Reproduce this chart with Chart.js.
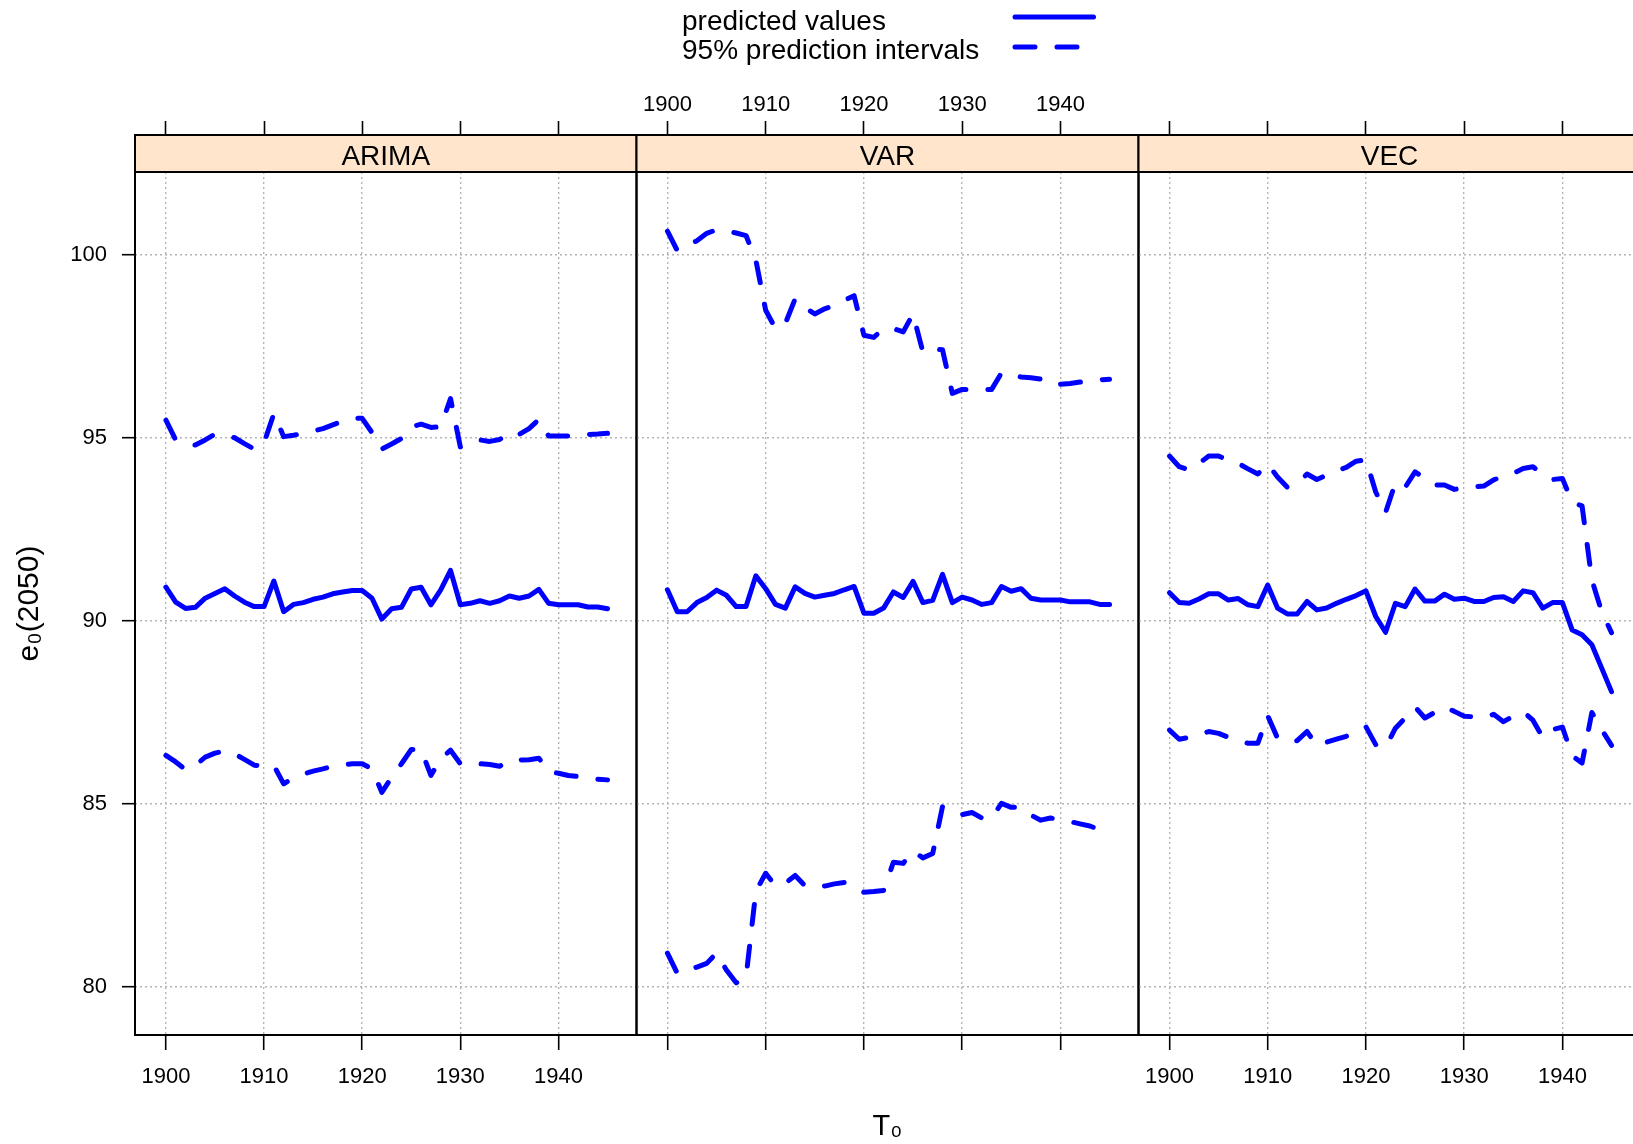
<!DOCTYPE html>
<html>
<head>
<meta charset="utf-8">
<script src="https://cdn.jsdelivr.net/npm/chart.js@4.4.1/dist/chart.umd.min.js"></script>
<style>
html, body { margin: 0; padding: 0; background: #ffffff; overflow: hidden; width: 1633px; height: 1144px; }
canvas { position: absolute; left: 0; top: 0; }
</style>
</head>
<body>
<canvas id="c0" width="1660" height="1144"></canvas>
<canvas id="c1" width="1660" height="1144"></canvas>
<canvas id="c2" width="1660" height="1144"></canvas>
<script>
// ---------------- data ----------------
const panelNames = ['ARIMA', 'VAR', 'VEC'];
const years = [1900,1901,1902,1903,1904,1905,1906,1907,1908,1909,
               1910,1911,1912,1913,1914,1915,1916,1917,1918,1919,
               1920,1921,1922,1923,1924,1925,1926,1927,1928,1929,
               1930,1931,1932,1933,1934,1935,1936,1937,1938,1939,
               1940,1941,1942,1943,1944,1945];
const xTicks = [1900, 1910, 1920, 1930, 1940];
const yTicks = [80, 85, 90, 95, 100];
const legendLabels = ['predicted values', '95% prediction intervals'];

const arimaPred = [90.92,90.51,90.34,90.37,90.62,90.75,90.88,90.68,90.51,90.39,
                   90.39,91.09,90.25,90.45,90.50,90.59,90.65,90.74,90.79,90.83,
                   90.83,90.62,90.05,90.33,90.37,90.87,90.92,90.44,90.85,91.38,
                   90.44,90.48,90.55,90.48,90.55,90.68,90.62,90.68,90.86,90.48,
                   90.44,90.44,90.44,90.38,90.38,90.33];
const arimaUpper = [95.48,94.94,94.85,94.80,94.94,95.10,95.06,95.00,94.84,94.69,
                    94.86,95.66,95.03,95.07,95.12,95.18,95.25,95.35,95.45,95.53,
                    95.53,95.14,94.69,94.83,94.98,95.30,95.37,95.28,95.30,96.07,
                    94.75,94.85,94.94,94.90,94.95,95.15,95.09,95.25,95.50,95.05,
                    95.05,95.05,95.05,95.09,95.10,95.12];
const arimaLower = [86.33,86.15,85.94,86.06,86.28,86.39,86.45,86.37,86.22,86.06,
                    86.04,86.05,85.55,85.72,85.82,85.90,85.96,86.03,86.07,86.10,
                    86.10,85.96,85.32,85.73,86.10,86.49,86.49,85.78,86.24,86.47,
                    86.10,86.12,86.10,86.08,86.03,86.19,86.20,86.21,86.25,85.89,
                    85.84,85.78,85.75,85.71,85.68,85.66];

const varPred = [90.85,90.25,90.25,90.50,90.64,90.84,90.70,90.39,90.39,91.23,
                 90.88,90.45,90.35,90.93,90.75,90.65,90.70,90.75,90.85,90.94,
                 90.21,90.21,90.35,90.79,90.64,91.08,90.50,90.56,91.27,90.50,
                 90.65,90.57,90.45,90.50,90.94,90.81,90.88,90.62,90.57,90.57,
                 90.57,90.52,90.52,90.52,90.45,90.45];
const varUpper = [100.64,100.11,100.25,100.38,100.58,100.68,100.64,100.59,100.52,99.85,
                  98.48,97.98,98.12,98.79,98.55,98.38,98.52,98.61,98.75,98.88,
                  97.80,97.74,97.98,97.98,97.89,98.38,97.34,97.43,97.40,96.21,
                  96.32,96.32,96.32,96.32,96.77,96.72,96.66,96.64,96.60,96.45,
                  96.46,96.48,96.52,96.56,96.58,96.60];
const varLower = [80.93,80.38,80.45,80.55,80.65,80.93,80.47,80.12,80.27,82.62,
                  83.11,82.77,82.84,83.05,82.77,82.75,82.76,82.82,82.86,82.75,
                  82.59,82.61,82.64,83.41,83.38,83.72,83.53,83.65,84.93,84.82,
                  84.71,84.77,84.62,84.62,85.02,84.91,84.91,84.70,84.56,84.62,
                  84.56,84.52,84.46,84.40,84.30,84.23];

const vecPred = [90.77,90.50,90.48,90.60,90.74,90.74,90.57,90.61,90.44,90.39,
                 90.98,90.35,90.19,90.19,90.53,90.30,90.35,90.48,90.59,90.69,
                 90.82,90.12,89.69,90.48,90.39,90.87,90.54,90.54,90.73,90.59,
                 90.62,90.53,90.53,90.64,90.66,90.53,90.82,90.77,90.35,90.50,
                 90.50,89.75,89.62,89.35,88.71,88.07];
const vecUpper = [94.50,94.21,94.12,94.30,94.50,94.50,94.39,94.30,94.15,94.01,
                  94.28,93.93,93.65,93.75,94.01,93.86,93.98,94.10,94.19,94.36,
                  94.40,93.52,92.96,93.77,93.65,94.07,93.89,93.71,93.71,93.59,
                  93.63,93.66,93.68,93.85,93.95,94.03,94.16,94.21,94.00,93.86,
                  93.89,93.23,93.14,91.12,90.25,89.68];
const vecLower = [87.02,86.77,86.82,86.90,86.98,86.93,86.82,86.74,86.66,86.66,
                  87.41,86.80,86.73,86.73,86.98,86.60,86.69,86.77,86.85,86.98,
                  87.11,86.62,86.55,87.07,87.35,87.65,87.35,87.50,87.65,87.53,
                  87.40,87.38,87.36,87.45,87.25,87.40,87.52,87.29,86.82,87.03,
                  87.10,86.32,86.12,87.50,87.03,86.60];

const predSeries  = [arimaPred, varPred, vecPred];
const upperSeries = [arimaUpper, varUpper, vecUpper];
const lowerSeries = [arimaLower, varLower, vecLower];

// ---------------- layout / style ----------------
const CW = 1660, CH = 1144;
const panelLeft  = [135, 636.5, 1138.5];
const panelRight = [636.5, 1138.5, 1640.5];
const stripTop = 135, plotTop = 172, plotBottom = 1035;
const xMin = 1896.85, xMax = 1947.95;
const yMin = 78.695, yMax = 102.255;
const FONT = '"Liberation Sans", Arial, Helvetica, sans-serif';
const BLUE = '#0000ff';
const GRID = '#b4b4b4';
const DASH = [20, 22];

Chart.defaults.font.family = FONT;
Chart.defaults.color = '#000000';

const decoPlugin = {
  id: 'panelDeco',
  afterDraw(chart, args, opts) {
    const ctx = chart.ctx, a = chart.chartArea;
    ctx.save();
    ctx.fillStyle = '#ffe5cc';
    ctx.fillRect(a.left, stripTop, a.right - a.left, plotTop - stripTop);
    ctx.strokeStyle = '#000000';
    ctx.lineWidth = 2;
    ctx.setLineDash([]);
    ctx.strokeRect(a.left, stripTop, a.right - a.left, plotTop - stripTop);
    ctx.strokeRect(a.left, a.top, a.right - a.left, a.bottom - a.top);
    ctx.fillStyle = '#000000';
    ctx.font = '28px ' + FONT;
    ctx.textAlign = 'center';
    ctx.textBaseline = 'middle';
    ctx.fillText(opts.label, (a.left + a.right) / 2, (stripTop + plotTop) / 2 + 4);
    if (opts.legend) {
      ctx.textAlign = 'left';
      ctx.textBaseline = 'alphabetic';
      ctx.fillText(legendLabels[0], 682, 30);
      ctx.fillText(legendLabels[1], 682, 59);
      ctx.strokeStyle = BLUE;
      ctx.lineWidth = 5;
      ctx.lineCap = 'round';
      ctx.beginPath(); ctx.moveTo(1015, 17); ctx.lineTo(1093.5, 17); ctx.stroke();
      ctx.setLineDash(DASH);
      ctx.beginPath(); ctx.moveTo(1015, 47); ctx.lineTo(1093.5, 47); ctx.stroke();
    }
    ctx.restore();
  }
};

function pts(vals) { return years.map((yr, i) => ({ x: yr, y: vals[i] })); }
function lineDs(label, vals, dashed) {
  return {
    label: label, data: pts(vals), borderColor: BLUE, backgroundColor: BLUE,
    borderWidth: 5, pointRadius: 0, pointHoverRadius: 0, tension: 0, fill: false,
    borderCapStyle: 'round', borderJoinStyle: 'round', borderDash: dashed ? DASH : []
  };
}
const setXTicks = s => { s.ticks = xTicks.map(v => ({ value: v })); };
const setYTicks = s => { s.ticks = yTicks.map(v => ({ value: v })); };

function makeChart(idx) {
  const showY = idx === 0;
  const isMid = idx === 1;
  const tickFont = { size: 22, lineHeight: 1 };
  new Chart(document.getElementById('c' + idx), {
    type: 'line',
    data: {
      datasets: [
        lineDs('predicted values', predSeries[idx], false),
        lineDs('95% prediction intervals (upper)', upperSeries[idx], true),
        lineDs('95% prediction intervals (lower)', lowerSeries[idx], true)
      ]
    },
    options: {
      responsive: false, animation: false, devicePixelRatio: 1,
      events: [],
      layout: { padding: { left: showY ? 0 : panelLeft[idx], right: CW - panelRight[idx], top: 0, bottom: 0 } },
      plugins: {
        legend: { display: false }, tooltip: { enabled: false }, title: { display: false },
        panelDeco: { label: panelNames[idx], legend: isMid }
      },
      scales: {
        x: {
          type: 'linear', position: 'bottom', min: xMin, max: xMax,
          afterBuildTicks: setXTicks,
          afterFit: s => { s.height = CH - plotBottom; },
          ticks: { display: !isMid, autoSkip: false, maxRotation: 0, minRotation: 0, padding: 16,
                   font: tickFont, color: '#000', callback: v => String(v) },
          grid: { display: true, drawOnChartArea: true, drawTicks: true, tickLength: 15,
                  color: GRID, lineWidth: 1.4, tickColor: '#000', tickWidth: 1.6, tickBorderDash: [] },
          border: { display: false, dash: [2, 3] },
          title: { display: isMid, text: 'T₀', color: '#000', font: { size: 29, lineHeight: 1.2 },
                   padding: { top: 0, bottom: 0 } }
        },
        x2: {
          type: 'linear', axis: 'x', position: 'top', min: xMin, max: xMax,
          afterBuildTicks: setXTicks,
          afterFit: s => { s.height = plotTop; },
          ticks: { display: isMid, autoSkip: false, maxRotation: 0, minRotation: 0, padding: 5,
                   font: tickFont, color: '#000', callback: v => String(v) },
          grid: { display: true, drawOnChartArea: false, drawTicks: true, tickLength: 51,
                  color: GRID, tickColor: '#000', tickWidth: 1.6, tickBorderDash: [] },
          border: { display: false }
        },
        y: {
          type: 'linear', position: 'left', min: yMin, max: yMax,
          afterBuildTicks: setYTicks,
          afterFit: s => { s.width = showY ? 135 : 0; },
          ticks: { display: showY, padding: 15, font: tickFont, color: '#000', callback: v => String(v) },
          grid: { display: true, drawOnChartArea: true, drawTicks: showY, tickLength: 13,
                  color: GRID, lineWidth: 1.4, tickColor: '#000', tickWidth: 1.6, tickBorderDash: [] },
          border: { display: false, dash: [2, 3] },
          title: { display: showY, text: 'e₀(2050)', color: '#000', font: { size: 30, lineHeight: 1.2 },
                   padding: { top: 12, bottom: 0 } }
        }
      }
    },
    plugins: [decoPlugin]
  });
}
makeChart(0);
makeChart(1);
makeChart(2);
</script>
</body>
</html>
